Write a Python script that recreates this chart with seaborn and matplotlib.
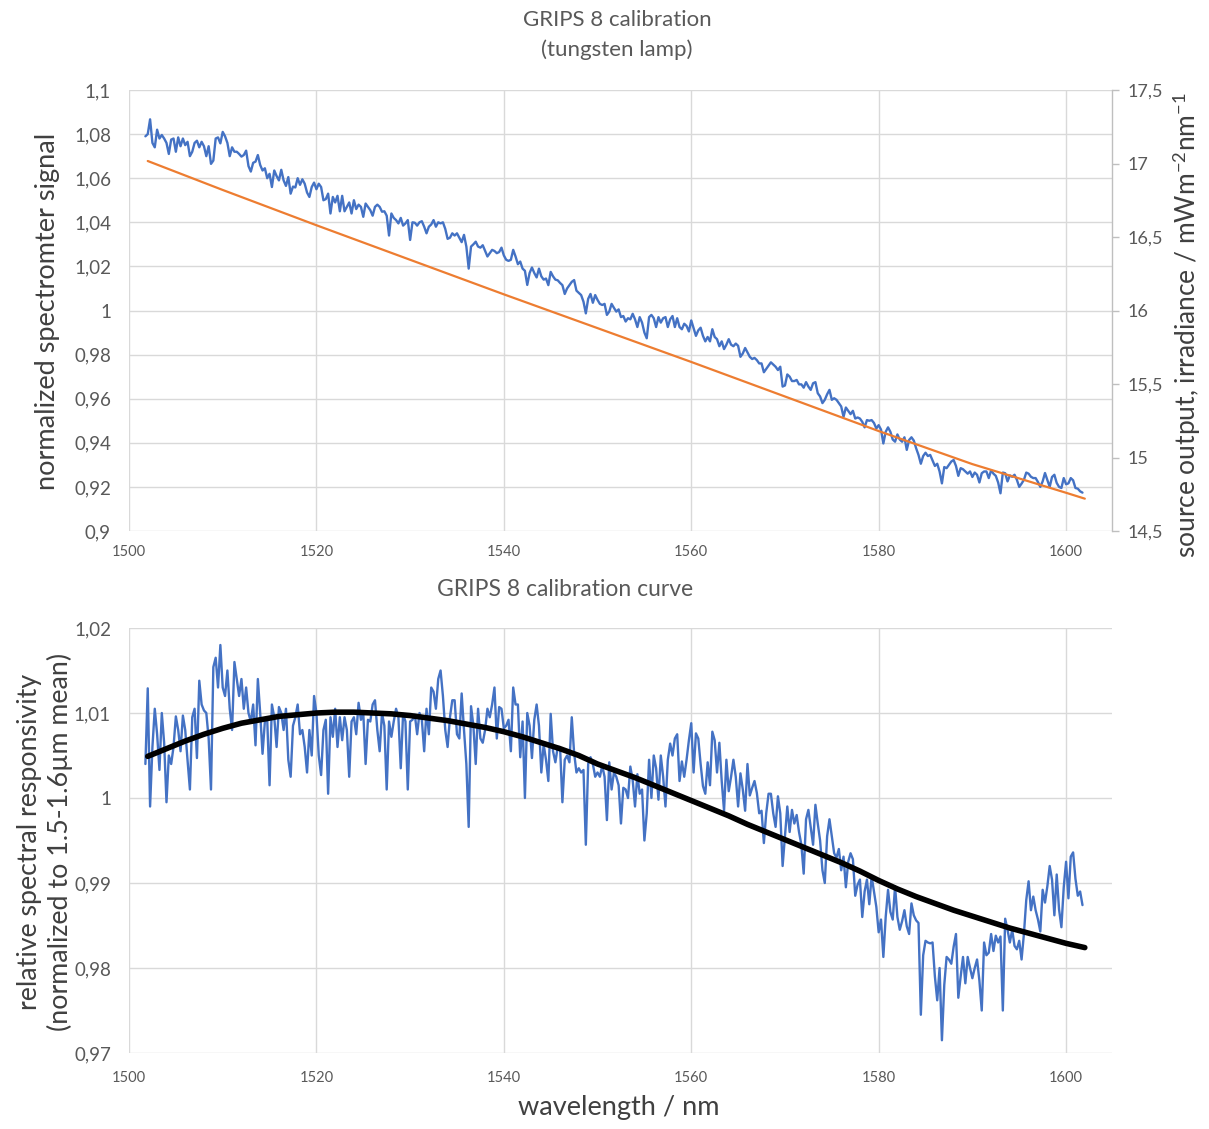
import numpy as np
import matplotlib
matplotlib.use("Agg")
import matplotlib.pyplot as plt
import seaborn as sns

# ---------------- data ----------------
wl_start = 1501.75   # nm, first sample
wl_step = 0.25       # nm between samples

# top panel: normalized spectrometer signal (left axis)
signal = [
    1.0790,
    1.0800, 1.0867, 1.0760, 1.0740,
    1.0820, 1.0780, 1.0796, 1.0780,
    1.0760, 1.0710, 1.0775, 1.0780,
    1.0720, 1.0785, 1.0745, 1.0780,
    1.0750, 1.0765, 1.0700, 1.0720,
    1.0760, 1.0770, 1.0740, 1.0765,
    1.0745, 1.0700, 1.0745, 1.0665,
    1.0680, 1.0780, 1.0785, 1.0758,
    1.0810, 1.0790, 1.0760, 1.0700,
    1.0740, 1.0720, 1.0720, 1.0710,
    1.0698, 1.0705, 1.0725, 1.0655,
    1.0630, 1.0670, 1.0675, 1.0705,
    1.0660, 1.0635, 1.0645, 1.0600,
    1.0620, 1.0560, 1.0635, 1.0610,
    1.0590, 1.0638, 1.0590, 1.0565,
    1.0605, 1.0530, 1.0562, 1.0558,
    1.0600, 1.0570, 1.0595, 1.0575,
    1.0535, 1.0515, 1.0560, 1.0580,
    1.0550, 1.0575, 1.0560, 1.0500,
    1.0505, 1.0530, 1.0440, 1.0515,
    1.0490, 1.0520, 1.0450, 1.0520,
    1.0450, 1.0470, 1.0490, 1.0440,
    1.0500, 1.0460, 1.0480, 1.0470,
    1.0425, 1.0485, 1.0470, 1.0455,
    1.0430, 1.0470, 1.0480, 1.0470,
    1.0448, 1.0450, 1.0430, 1.0340,
    1.0440, 1.0420, 1.0410, 1.0395,
    1.0420, 1.0385, 1.0395, 1.0410,
    1.0320, 1.0400, 1.0398, 1.0385,
    1.0400, 1.0405, 1.0380, 1.0350,
    1.0380, 1.0390, 1.0410, 1.0380,
    1.0400, 1.0395, 1.0400, 1.0370,
    1.0325, 1.0330, 1.0350, 1.0340,
    1.0350, 1.0330, 1.0310, 1.0343,
    1.0290, 1.0190, 1.0290, 1.0300,
    1.0312, 1.0290, 1.0285, 1.0296,
    1.0270, 1.0245, 1.0260, 1.0275,
    1.0270, 1.0260, 1.0265, 1.0285,
    1.0250, 1.0230, 1.0225, 1.0230,
    1.0275, 1.0245, 1.0210, 1.0222,
    1.0190, 1.0180, 1.0116, 1.0170,
    1.0195, 1.0170, 1.0150, 1.0190,
    1.0155, 1.0140, 1.0145, 1.0115,
    1.0175, 1.0155, 1.0140, 1.0137,
    1.0125, 1.0115, 1.0075, 1.0100,
    1.0115, 1.0130, 1.0138, 1.0090,
    1.0080, 1.0070, 1.0040, 0.9987,
    1.0053, 1.0075, 1.0035, 1.0070,
    1.0048, 1.0030, 1.0025, 1.0030,
    0.9980, 0.9995, 1.0030, 1.0012,
    0.9995, 1.0005, 0.9970, 0.9975,
    0.9950, 0.9965, 0.9960, 0.9985,
    0.9960, 0.9925, 0.9970, 0.9945,
    0.9900, 0.9874, 0.9970, 0.9980,
    0.9965, 0.9925, 0.9970, 0.9945,
    0.9965, 0.9970, 0.9925, 0.9960,
    0.9975, 0.9925, 0.9965, 0.9925,
    0.9915, 0.9940, 0.9930, 0.9905,
    0.9955, 0.9920, 0.9885, 0.9910,
    0.9922, 0.9885, 0.9860, 0.9880,
    0.9860, 0.9915, 0.9880, 0.9870,
    0.9838, 0.9860, 0.9825, 0.9845,
    0.9870, 0.9845, 0.9838, 0.9850,
    0.9840, 0.9790, 0.9805, 0.9830,
    0.9810, 0.9790, 0.9780, 0.9785,
    0.9775, 0.9760, 0.9760, 0.9720,
    0.9735, 0.9750, 0.9765, 0.9755,
    0.9745, 0.9730, 0.9745, 0.9655,
    0.9660, 0.9710, 0.9700, 0.9680,
    0.9680, 0.9685, 0.9665, 0.9665,
    0.9650, 0.9675, 0.9655, 0.9640,
    0.9670, 0.9675, 0.9625, 0.9610,
    0.9580, 0.9595, 0.9620, 0.9640,
    0.9595, 0.9602, 0.9595, 0.9580,
    0.9565, 0.9518, 0.9560, 0.9545,
    0.9530, 0.9545, 0.9510, 0.9515,
    0.9510, 0.9495, 0.9470, 0.9503,
    0.9500, 0.9503, 0.9490, 0.9465,
    0.9480, 0.9460, 0.9397, 0.9450,
    0.9470, 0.9450, 0.9415, 0.9405,
    0.9438, 0.9415, 0.9405, 0.9425,
    0.9368, 0.9413, 0.9425, 0.9410,
    0.9375, 0.9345, 0.9305, 0.9340,
    0.9355, 0.9340, 0.9345, 0.9320,
    0.9295, 0.9305, 0.9270, 0.9216,
    0.9290, 0.9285, 0.9300, 0.9315,
    0.9322, 0.9295, 0.9250, 0.9285,
    0.9280, 0.9270, 0.9260, 0.9270,
    0.9245, 0.9265, 0.9255, 0.9220,
    0.9262, 0.9270, 0.9270, 0.9240,
    0.9275, 0.9260, 0.9250, 0.9220,
    0.9171, 0.9265, 0.9262, 0.9225,
    0.9252, 0.9246, 0.9255, 0.9232,
    0.9200, 0.9215, 0.9232, 0.9265,
    0.9260, 0.9246, 0.9240, 0.9240,
    0.9222, 0.9200, 0.9225, 0.9263,
    0.9232, 0.9200, 0.9245, 0.9255,
    0.9218, 0.9200, 0.9195, 0.9240,
    0.9212, 0.9216, 0.9240, 0.9230,
    0.9195, 0.9192, 0.9180, 0.9174,
]

# top panel: tungsten lamp irradiance (right axis)
lamp_wl = [1502, 1510, 1520, 1530, 1540, 1550, 1560, 1570, 1580, 1590, 1600, 1602]
lamp_irr = [17.017, 16.82, 16.58, 16.345, 16.11, 15.88, 15.65, 15.415, 15.18, 14.955, 14.76, 14.72]

# bottom panel: relative spectral responsivity
responsivity = [
    1.0040,
    1.0129, 0.9990, 1.0060, 1.0105,
    1.0075, 1.0033, 1.0100, 1.0065,
    0.9995, 1.0050, 1.0040, 1.0060,
    1.0096, 1.0080, 1.0055, 1.0097,
    1.0080, 1.0044, 1.0010, 1.0095,
    1.0105, 1.0047, 1.0138, 1.0110,
    1.0103, 1.0100, 1.0070, 1.0010,
    1.0154, 1.0165, 1.0130, 1.0180,
    1.0130, 1.0120, 1.0150, 1.0105,
    1.0080, 1.0160, 1.0140, 1.0120,
    1.0140, 1.0105, 1.0130, 1.0100,
    1.0090, 1.0110, 1.0062, 1.0140,
    1.0100, 1.0052, 1.0090, 1.0092,
    1.0015, 1.0110, 1.0095, 1.0060,
    1.0107, 1.0100, 1.0080, 1.0105,
    1.0045, 1.0025, 1.0085, 1.0095,
    1.0110, 1.0075, 1.0080, 1.0060,
    1.0030, 1.0080, 1.0050, 1.0120,
    1.0100, 1.0050, 1.0027, 1.0080,
    1.0092, 1.0005, 1.0095, 1.0072,
    1.0105, 1.0060, 1.0095, 1.0068,
    1.0095, 1.0080, 1.0025, 1.0090,
    1.0095, 1.0075, 1.0112, 1.0092,
    1.0100, 1.0040, 1.0092, 1.0090,
    1.0110, 1.0115, 1.0080, 1.0055,
    1.0100, 1.0085, 1.0010, 1.0090,
    1.0072, 1.0090, 1.0105, 1.0095,
    1.0035, 1.0099, 1.0090, 1.0010,
    1.0090, 1.0092, 1.0098, 1.0075,
    1.0100, 1.0092, 1.0055, 1.0105,
    1.0075, 1.0130, 1.0125, 1.0105,
    1.0140, 1.0150, 1.0120, 1.0080,
    1.0060, 1.0095, 1.0115, 1.0115,
    1.0075, 1.0070, 1.0123, 1.0080,
    1.0040, 0.9966, 1.0108, 1.0085,
    1.0040, 1.0105, 1.0070, 1.0065,
    1.0080, 1.0105, 1.0095, 1.0110,
    1.0130, 1.0070, 1.0107, 1.0105,
    1.0082, 1.0085, 1.0092, 1.0055,
    1.0130, 1.0110, 1.0110, 1.0048,
    1.0090, 1.0000, 1.0100, 1.0085,
    1.0047, 1.0092, 1.0110, 1.0085,
    1.0030, 1.0063, 1.0045, 1.0020,
    1.0099, 1.0055, 1.0042, 1.0060,
    1.0060, 0.9995, 1.0045, 1.0050,
    1.0042, 1.0095, 1.0053, 1.0030,
    1.0035, 1.0030, 1.0033, 0.9945,
    1.0040, 1.0048, 1.0040, 1.0025,
    1.0030, 1.0025, 1.0038, 1.0025,
    0.9974, 1.0042, 1.0010, 1.0030,
    1.0025, 1.0015, 0.9970, 1.0012,
    1.0010, 1.0000, 1.0037, 1.0021,
    0.9990, 1.0028, 1.0005, 1.0010,
    0.9950, 0.9982, 1.0045, 1.0000,
    1.0050, 1.0035, 0.9998, 1.0050,
    1.0025, 0.9990, 1.0045, 1.0064,
    1.0050, 1.0070, 1.0075, 1.0020,
    1.0043, 1.0025, 1.0045, 1.0068,
    1.0088, 1.0030, 1.0076, 1.0070,
    1.0040, 1.0014, 1.0005, 1.0042,
    1.0015, 1.0078, 1.0068, 1.0030,
    1.0065, 1.0020, 0.9985, 1.0045,
    1.0008, 1.0025, 1.0045, 1.0025,
    0.9990, 1.0029, 1.0010, 0.9985,
    1.0040, 1.0003, 1.0012, 1.0020,
    1.0006, 0.9982, 0.9985, 0.9947,
    0.9982, 1.0005, 1.0005, 0.9982,
    0.9966, 1.0002, 0.9982, 0.9920,
    0.9955, 0.9990, 0.9960, 0.9986,
    0.9970, 0.9980, 0.9960, 0.9945,
    0.9911, 0.9975, 0.9986, 0.9965,
    0.9945, 0.9992, 0.9970, 0.9950,
    0.9915, 0.9900, 0.9955, 0.9975,
    0.9955, 0.9935, 0.9930, 0.9940,
    0.9915, 0.9931, 0.9895, 0.9925,
    0.9935, 0.9928, 0.9885, 0.9898,
    0.9904, 0.9860, 0.9890, 0.9904,
    0.9875, 0.9908, 0.9890, 0.9872,
    0.9842, 0.9857, 0.9813, 0.9860,
    0.9892, 0.9866, 0.9857, 0.9896,
    0.9860, 0.9845, 0.9855, 0.9868,
    0.9849, 0.9840, 0.9876, 0.9862,
    0.9856, 0.9853, 0.9745, 0.9815,
    0.9832, 0.9830, 0.9829, 0.9830,
    0.9790, 0.9762, 0.9800, 0.9715,
    0.9780, 0.9813, 0.9810, 0.9805,
    0.9825, 0.9840, 0.9765, 0.9790,
    0.9813, 0.9782, 0.9813, 0.9800,
    0.9788, 0.9800, 0.9810, 0.9785,
    0.9750, 0.9830, 0.9815, 0.9818,
    0.9840, 0.9820, 0.9838, 0.9830,
    0.9837, 0.9750, 0.9858, 0.9845,
    0.9830, 0.9845, 0.9826, 0.9822,
    0.9832, 0.9810, 0.9840, 0.9880,
    0.9902, 0.9868, 0.9884, 0.9868,
    0.9857, 0.9843, 0.9892, 0.9877,
    0.9896, 0.9920, 0.9904, 0.9862,
    0.9910, 0.9869, 0.9848, 0.9895,
    0.9925, 0.9882, 0.9931, 0.9936,
    0.9905, 0.9885, 0.9890, 0.9874,
]

# bottom panel: smooth calibration curve
fit_wl = [1502, 1504, 1506, 1508, 1510, 1512, 1514, 1516, 1518, 1520,
          1522, 1524, 1526, 1528, 1530, 1532, 1534, 1536, 1538, 1540,
          1542, 1544, 1546, 1548, 1550, 1552, 1554, 1556, 1558, 1560,
          1562, 1564, 1566, 1568, 1570, 1572, 1574, 1576, 1578, 1580,
          1582, 1584, 1586, 1588, 1590, 1592, 1594, 1596, 1598, 1600, 1602]
fit_val = [1.0049, 1.0058, 1.0067, 1.0075, 1.0082, 1.0088, 1.0092, 1.0096, 1.0098, 1.0100,
           1.0101, 1.0101, 1.0100, 1.0099, 1.0097, 1.0094, 1.0091, 1.0087, 1.0083, 1.0078,
           1.0072, 1.0065, 1.0058, 1.0050, 1.0040, 1.0032, 1.0024, 1.0015, 1.0006, 0.9997,
           0.9988, 0.9979, 0.9969, 0.9960, 0.9951, 0.9942, 0.9933, 0.9924, 0.9914, 0.9903,
           0.9893, 0.9884, 0.9876, 0.9868, 0.9861, 0.9854, 0.9847, 0.9841, 0.9835, 0.9829, 0.9824]

# ticks and tick labels
x_ticks = [1500, 1520, 1540, 1560, 1580, 1600]
x_ticklabels = ["1500", "1520", "1540", "1560", "1580", "1600"]
sig_ticks = [0.90, 0.92, 0.94, 0.96, 0.98, 1.00, 1.02, 1.04, 1.06, 1.08, 1.10]
sig_ticklabels = ["0,9", "0,92", "0,94", "0,96", "0,98", "1", "1,02", "1,04", "1,06", "1,08", "1,1"]
irr_ticks = [14.5, 15.0, 15.5, 16.0, 16.5, 17.0, 17.5]
irr_ticklabels = ["14,5", "15", "15,5", "16", "16,5", "17", "17,5"]
resp_ticks = [0.97, 0.98, 0.99, 1.00, 1.01, 1.02]
resp_ticklabels = ["0,97", "0,98", "0,99", "1", "1,01", "1,02"]

# ---------------- style ----------------
sns.set_style("white")
plt.rcParams['font.family'] = ['Lato', 'DejaVu Sans']
plt.rcParams['mathtext.fontset'] = 'custom'
plt.rcParams['mathtext.rm'] = 'Lato'
plt.rcParams['mathtext.it'] = 'Lato:italic'
plt.rcParams['mathtext.bf'] = 'Lato:bold'

BLUE = '#4472C4'
ORANGE = '#ED7D31'
GRID = '#d9d9d9'
TICKC = '#595959'
LABC = '#404040'

W, H = 1209, 1129
fig = plt.figure(figsize=(W / 100, H / 100), dpi=100)
fig.patch.set_facecolor('white')

ax1 = fig.add_axes([129 / W, 1 - 531 / H, 983 / W, 441 / H])
ax1r = ax1.twinx()
ax2 = fig.add_axes([129 / W, 1 - 1053 / H, 983 / W, 425 / H])

wl = wl_start + wl_step * np.arange(len(signal))
wl_r = wl_start + wl_step * np.arange(len(responsivity))

sns.lineplot(x=wl, y=signal, ax=ax1, color=BLUE, linewidth=1.7, zorder=3)
sns.lineplot(x=lamp_wl, y=lamp_irr, ax=ax1r, color=ORANGE, linewidth=1.6, zorder=3)
sns.lineplot(x=wl_r, y=responsivity, ax=ax2, color=BLUE, linewidth=1.7, zorder=3)
sns.lineplot(x=fit_wl, y=fit_val, ax=ax2, color='black', linewidth=4.0, zorder=4)

XMAX = 1604.9
for ax, yt, yl, ylim in [(ax1, sig_ticks, sig_ticklabels, (0.9, 1.1)),
                         (ax2, resp_ticks, resp_ticklabels, (0.97, 1.02))]:
    ax.set_xlim(1500, XMAX)
    ax.set_ylim(*ylim)
    ax.set_xticks(x_ticks)
    ax.set_xticklabels(x_ticklabels)
    ax.set_yticks(yt)
    ax.set_yticklabels(yl)
    ax.grid(True, color=GRID, linewidth=1.0)
    ax.set_axisbelow(True)
    for s in ax.spines.values():
        s.set_visible(False)
    ax.set_xlabel('')
    ax.set_ylabel('')
    ax.tick_params(axis='y', length=0, pad=13, labelsize=13.5, labelcolor=TICKC)

ax1.tick_params(axis='x', length=0, pad=10, labelsize=10.5, labelcolor=TICKC)
ax2.tick_params(axis='x', length=0, pad=13, labelsize=10.5, labelcolor=TICKC)

ax1r.set_ylim(14.5, 17.5)
ax1r.set_yticks(irr_ticks)
ax1r.set_yticklabels(irr_ticklabels)
ax1r.set_ylabel('')
for name, s in ax1r.spines.items():
    s.set_visible(name == 'right')
ax1r.spines['right'].set_color('#bfbfbf')
ax1r.spines['right'].set_linewidth(1.0)
ax1r.tick_params(axis='y', length=5, width=1, color='#bfbfbf', pad=6,
                 labelsize=13, labelcolor=TICKC)

# titles and labels
fig.text(617 / W, 1 - 35 / H, "GRIPS 8 calibration\n(tungsten lamp)", ha='center', va='center',
         fontsize=16, color=TICKC, linespacing=1.55)
fig.text(565 / W, 1 - 590 / H, "GRIPS 8 calibration curve", ha='center', va='center',
         fontsize=16.5, color=TICKC)
fig.text(48 / W, 1 - 311 / H, "normalized spectromter signal", rotation=90,
         ha='center', va='center', fontsize=19.5, color=LABC)
fig.text(1187 / W, 1 - 325 / H, r"source output, irradiance / mWm$^{-2}$nm$^{-1}$", rotation=90,
         ha='center', va='center', fontsize=19, color=LABC)
fig.text(45 / W, 1 - 842 / H, "relative spectral responsivity\n(normalized to 1.5-1.6µm mean)",
         rotation=90, ha='center', va='center', fontsize=19.3, color=LABC, linespacing=1.25)
fig.text(619 / W, 1 - 1108 / H, "wavelength / nm", ha='center', va='center',
         fontsize=19.5, color=LABC)

fig.savefig("out.png", dpi=100, facecolor='white')
